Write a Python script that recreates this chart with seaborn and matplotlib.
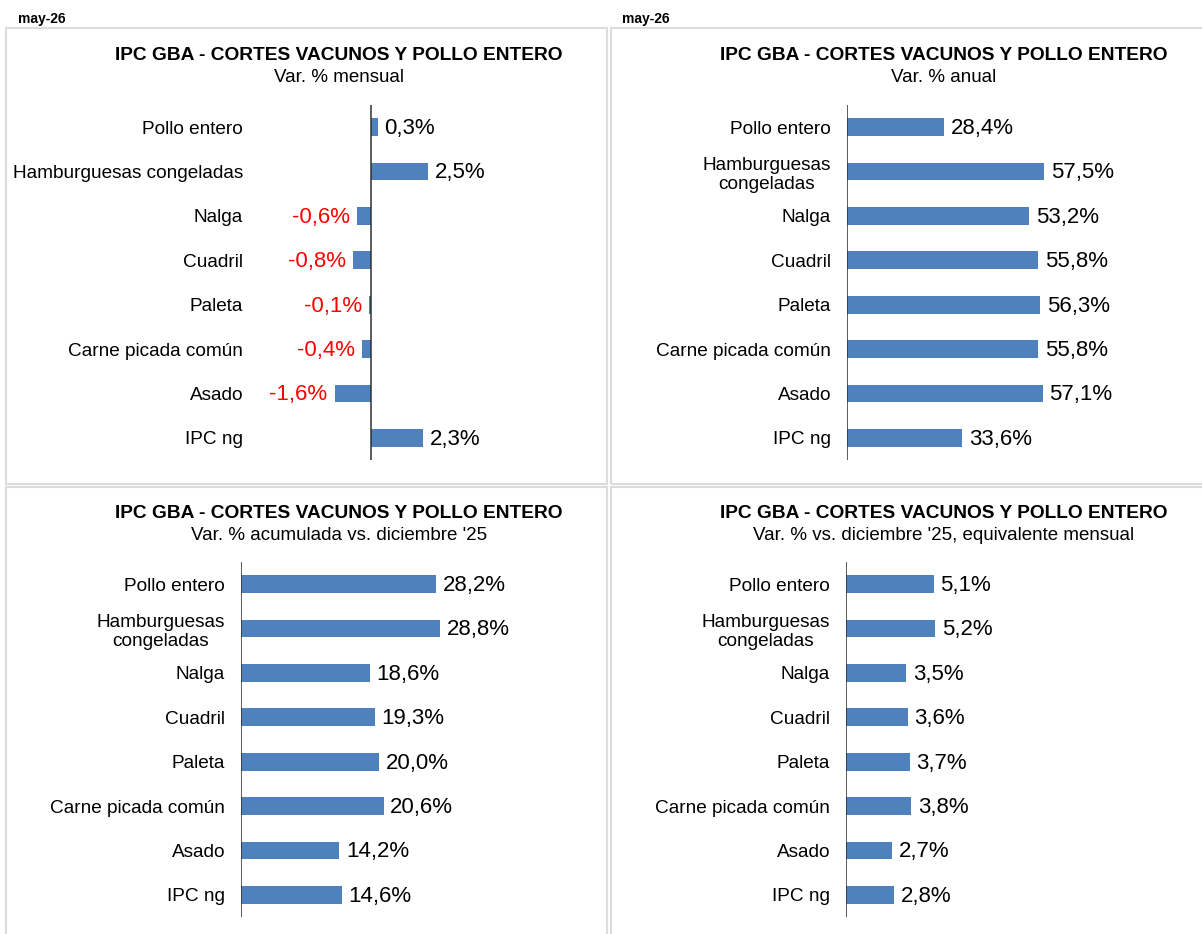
import matplotlib
matplotlib.use("Agg")
import matplotlib.pyplot as plt
from matplotlib.patches import Rectangle
import pandas as pd
import seaborn as sns

# Categories (top to bottom)
categorias = ["Pollo entero", "Hamburguesas congeladas", "Nalga", "Cuadril",
              "Paleta", "Carne picada común", "Asado", "IPC ng"]
categorias_2l = ["Pollo entero", "Hamburguesas\ncongeladas", "Nalga", "Cuadril",
                 "Paleta", "Carne picada común", "Asado", "IPC ng"]

# Series (% variation)
var_mensual = [0.3, 2.5, -0.6, -0.8, -0.1, -0.4, -1.6, 2.3]
var_anual = [28.4, 57.5, 53.2, 55.8, 56.3, 55.8, 57.1, 33.6]
var_acumulada = [28.2, 28.8, 18.6, 19.3, 20.0, 20.6, 14.2, 14.6]
var_equiv_mensual = [5.1, 5.2, 3.5, 3.6, 3.7, 3.8, 2.7, 2.8]

titulo = "IPC GBA - CORTES VACUNOS Y POLLO ENTERO"
subtitulos = ["Var. % mensual", "Var. % anual",
              "Var. % acumulada vs. diciembre '25",
              "Var. % vs. diciembre '25, equivalente mensual"]
fecha = "may-26"

BLUE = "#4f81bd"
RED = "#ff0000"
BORDER = "#dcdcdc"
W, H = 1202, 934

sns.set_theme(style="white")
plt.rcParams["font.family"] = ["Liberation Sans", "DejaVu Sans"]
plt.rcParams["text.color"] = "black"

fig = plt.figure(figsize=(W / 100, H / 100), dpi=100)


def fx(x):
    return x / W


def fy(y):
    return 1 - y / H


# panel frames
for (x0, y0, x1, y1) in [(6, 28, 607, 484), (611, 28, 1210, 484),
                         (6, 487, 607, 940), (611, 487, 1210, 940)]:
    fig.patches.append(Rectangle((fx(x0), fy(y1)), fx(x1 - x0), (y1 - y0) / H,
                                 transform=fig.transFigure, fill=False,
                                 edgecolor=BORDER, linewidth=1.5, zorder=0))

fig.text(fx(18), fy(19), fecha, fontsize=10, fontweight="bold", ha="left", va="center")
fig.text(fx(622), fy(19), fecha, fontsize=10, fontweight="bold", ha="left", va="center")


def fmt(v):
    return f"{v:.1f}".replace(".", ",") + "%"


def panel(values, labels, zero_px, scale, xmin, xmax, ytop, ybot, tcx, ty, sub):
    left = zero_px + xmin * scale
    ax = fig.add_axes([fx(left), fy(ybot), (xmax - xmin) * scale / W, (ybot - ytop) / H])
    df = pd.DataFrame({"cat": labels, "val": values})
    sns.barplot(data=df, x="val", y="cat", orient="h", color=BLUE, width=0.4,
                saturation=1, edgecolor="none", ax=ax)
    ax.set_xlim(xmin, xmax)
    ax.set_ylim(len(labels) - 0.5, -0.5)
    ax.set_xlabel("")
    ax.set_ylabel("")
    ax.set_xticks([])
    for s in ["top", "right", "bottom", "left"]:
        ax.spines[s].set_visible(False)
    ax.axvline(0, color="#303030", linewidth=1.1, zorder=5)
    ax.tick_params(axis="y", length=0, pad=11.5, labelsize=13.7, labelcolor="#000000")
    for lbl in ax.get_yticklabels():
        lbl.set_multialignment("center")
    for i, v in enumerate(values):
        if v < 0:
            ax.annotate(fmt(v), (v, i), xytext=(-5.0, -1.0), textcoords="offset points",
                        ha="right", va="center", fontsize=16, color=RED)
        else:
            ax.annotate(fmt(v), (v, i), xytext=(4.8, -1.0), textcoords="offset points",
                        ha="left", va="center", fontsize=16, color="#000000")
    fig.text(fx(tcx), fy(ty), titulo, fontsize=13.8, fontweight="bold",
             ha="center", va="center", color="#000000")
    fig.text(fx(tcx), fy(ty + 22), sub, fontsize=13.5, ha="center", va="center",
             color="#000000")
    return ax


panel(var_mensual, categorias, 371, 22.8, -4.91, 4.0, 105, 460, 339, 55, subtitulos[0])
panel(var_anual, categorias_2l, 847, 3.43, 0, 100, 105, 460, 944, 55, subtitulos[1])
panel(var_acumulada, categorias_2l, 241, 6.92, 0, 45, 562, 917, 339, 513, subtitulos[2])
panel(var_equiv_mensual, categorias_2l, 846, 17.2, 0, 19, 562, 917, 944, 513, subtitulos[3])

fig.savefig("out.png", dpi=100)
